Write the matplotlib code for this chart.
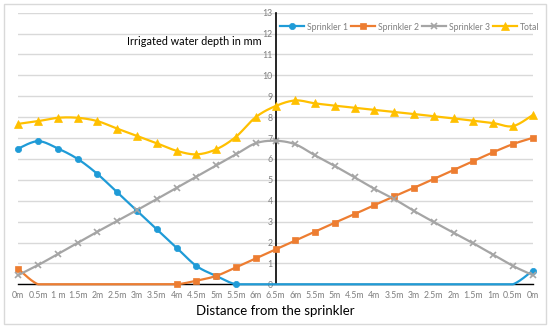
import matplotlib
matplotlib.use("Agg")
import matplotlib.pyplot as plt
import numpy as np
from matplotlib.lines import Line2D
from matplotlib.patches import Rectangle

plt.rcParams["font.family"] = ["Lato", "DejaVu Sans"]

distances = ["0m", "0.5m", "1 m", "1.5m", "2m", "2.5m", "3m", "3.5m", "4m", "4.5m",
             "5m", "5.5m", "6m", "6.5m", "6m", "5.5m", "5m", "4.5m", "4m", "3.5m",
             "3m", "2.5m", "2m", "1.5m", "1m", "0.5m", "0m"]

# None = empty cell (drawn as zero on the line, no marker)
sprinkler_1 = [6.5, 6.85, 6.5, 6.0, 5.28, 4.4, 3.52, 2.63, 1.75, 0.88, 0.4, 0.0,
               None, None, None, None, None, None, None, None, None, None, None,
               None, None, None, 0.65]
sprinkler_2 = [0.73, None, None, None, None, None, None, None, 0.0, 0.17, 0.4, 0.81,
               1.24, 1.67, 2.1, 2.52, 2.95, 3.36, 3.79, 4.21, 4.62, 5.04, 5.47, 5.9,
               6.32, 6.71, 7.01]
sprinkler_3 = [0.44, 0.92, 1.45, 1.99, 2.52, 3.03, 3.55, 4.08, 4.62, 5.15, 5.69,
               6.22, 6.75, 6.87, 6.7, 6.17, 5.66, 5.12, 4.57, 4.08, 3.51, 2.98,
               2.47, 1.96, 1.42, 0.88, 0.44]
total = [7.68, 7.81, 7.97, 7.97, 7.81, 7.45, 7.1, 6.75, 6.39, 6.22, 6.46, 7.06,
         8.0, 8.53, 8.8, 8.66, 8.55, 8.45, 8.35, 8.24, 8.15, 8.04, 7.94, 7.83,
         7.72, 7.57, 8.1]

series = [
    ("Sprinkler 1", sprinkler_1, "#1f9bd7", "o", 4.5),
    ("Sprinkler 2", sprinkler_2, "#ed7d31", "s", 4.5),
    ("Sprinkler 3", sprinkler_3, "#a5a5a5", "x", 4.5),
    ("Total", total, "#ffc000", "^", 6),
]


def smooth(x, y, steps=24):
    # Excel-like smoothed line: cubic Bezier with 1/6 neighbour tangents
    x = np.asarray(x, float)
    y = np.asarray(y, float)
    n = len(x)
    xs, ys = [], []
    t = np.linspace(0, 1, steps)
    for i in range(n - 1):
        p0 = np.array([x[i], y[i]])
        p3 = np.array([x[i + 1], y[i + 1]])
        pm = np.array([x[max(i - 1, 0)], y[max(i - 1, 0)]])
        pp = np.array([x[min(i + 2, n - 1)], y[min(i + 2, n - 1)]])
        c1 = p0 + (p3 - pm) / 6
        c2 = p3 - (pp - p0) / 6
        b = ((1 - t) ** 3)[:, None] * p0 + (3 * (1 - t) ** 2 * t)[:, None] * c1 \
            + (3 * (1 - t) * t ** 2)[:, None] * c2 + (t ** 3)[:, None] * p3
        xs.extend(b[:, 0])
        ys.extend(b[:, 1])
    return np.array(xs), np.array(ys)


fig = plt.figure(figsize=(5.5, 3.28), dpi=100)
ax = fig.add_axes([18.3 / 550, 1 - 284.3 / 328, (532.7 - 18.3) / 550, (284.3 - 12.7) / 328])

pos = np.arange(len(distances))
handles = []
for name, vals, color, marker, ms in series:
    marks = np.array([np.nan if v is None else v for v in vals], float)
    line_vals = np.nan_to_num(marks, nan=0.0)
    sx, sy = smooth(pos, line_vals)
    ax.plot(sx, np.maximum(sy, 0), color=color, lw=1.6, zorder=3, clip_on=False)
    mew = 1.2 if marker == "x" else 0.5
    ax.plot(pos, marks, linestyle="none", marker=marker, color=color, ms=ms,
            mew=mew, zorder=4, clip_on=False)
    handles.append(Line2D([], [], color=color, lw=1.6, marker=marker, ms=ms, mew=mew))

ax.set_xlim(0, len(distances) - 1)
ax.set_ylim(0, 13)
ax.set_yticks(np.arange(0, 14, 1))
ax.set_xticks(pos)
ax.set_xticklabels(distances)
ax.grid(axis="y", color="#d9d9d9", lw=1)
ax.set_axisbelow(True)
for side in ["top", "right"]:
    ax.spines[side].set_visible(False)
ax.spines["left"].set_position(("data", 13))
ax.spines["left"].set_color("black")
ax.spines["left"].set_linewidth(1.2)
ax.spines["left"].set_zorder(2)
ax.spines["bottom"].set_color("black")
ax.spines["bottom"].set_linewidth(1.0)
ax.spines["bottom"].set_zorder(2)
ax.tick_params(axis="both", length=0, labelsize=6.3, labelcolor="#7f7f7f")
ax.tick_params(axis="x", pad=5)
ax.tick_params(axis="y", pad=2)
ax.patch.set_alpha(0)

ax.text(12.3, 11.6, "Irrigated water depth in mm", ha="right", va="center", fontsize=7.8, color="black")
fig.text(275.5 / 550, 1 - 311 / 328, "Distance from the sprinkler", ha="center", va="center",
         fontsize=9.5, color="black")

fig.legend(handles, [s[0] for s in series], loc="center right", ncol=4,
           bbox_to_anchor=(0.99, 1 - 27 / 328), frameon=False, fontsize=6.2,
           handlelength=2.8, columnspacing=0.4, handletextpad=0.3, labelcolor="#7f7f7f",
           borderaxespad=0.2)

fig.patches.append(Rectangle((4 / 550, 4 / 328), 542 / 550, 320 / 328, transform=fig.transFigure,
                             fill=False, edgecolor="#d9d9d9", lw=1))

fig.savefig("out.png", dpi=100)
